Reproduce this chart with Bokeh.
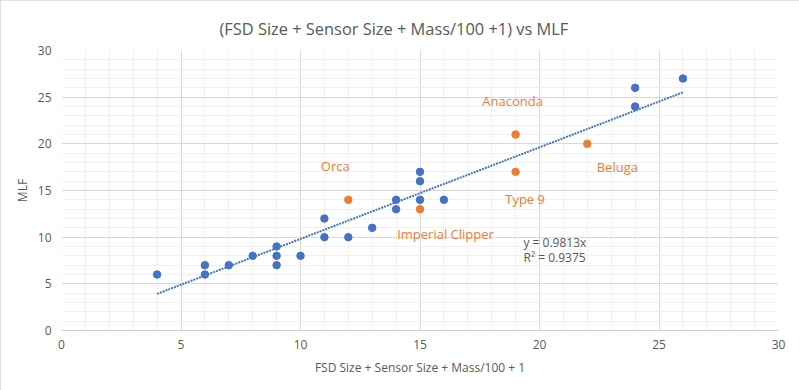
from bokeh.plotting import figure
from bokeh.models import Range1d, SingleIntervalTicker, Label, Title
from bokeh.embed import file_html
from bokeh.resources import INLINE

# ---- data ----
ship_x = [4, 6, 6, 7, 8, 9, 9, 9, 10, 11, 11, 12, 13, 14, 14, 15, 15, 15, 16, 24, 24, 26]
ship_mlf = [6, 7, 6, 7, 8, 9, 8, 7, 8, 12, 10, 10, 11, 14, 13, 17, 16, 14, 14, 26, 24, 27]

named_ships = ["Orca", "Imperial Clipper", "Anaconda", "Type 9", "Beluga"]
named_x = [12, 15, 19, 19, 22]
named_mlf = [14, 13, 21, 17, 20]

trend_slope = 0.9813
trend_r2 = 0.9375

x_ticks = [0, 5, 10, 15, 20, 25, 30]
y_ticks = [0, 5, 10, 15, 20, 25, 30]

title_text = "(FSD Size + Sensor Size + Mass/100 +1) vs MLF"

# ---- styles ----
BLUE = "#4472C4"
ORANGE = "#ED7D31"
GREY_TEXT = "#595959"
FONT = "Open Sans"

p = figure(width=799, height=390, output_backend="svg", toolbar_location=None, title=None,
           x_range=Range1d(x_ticks[0], x_ticks[-1]), y_range=Range1d(y_ticks[0], y_ticks[-1]),
           min_border_left=61, min_border_right=21, min_border_top=50, min_border_bottom=60)

# the title, then an invisible spacer between it and the plot frame
p.add_layout(Title(text=title_text, align="left", offset=158, vertical_align="top",
                   standoff=18, text_font=FONT, text_font_size="16.4px",
                   text_font_style="normal", text_color=GREY_TEXT), "above")
p.add_layout(Title(text=".", text_font_size="1px", text_alpha=0, standoff=6), "above")

p.outline_line_color = None
p.background_fill_color = "white"
p.border_fill_color = "white"
p.styles = {"outline": "1px solid #D9D9D9", "outline-offset": "-1px"}

xt = SingleIntervalTicker(interval=5, num_minor_ticks=5)
yt = SingleIntervalTicker(interval=5, num_minor_ticks=5)
p.xaxis.ticker = xt
p.yaxis.ticker = yt
p.xgrid.ticker = xt
p.ygrid.ticker = yt

for g in (p.xgrid, p.ygrid):
    g.grid_line_color = "#D9D9D9"
    g.grid_line_width = 1
    g.minor_grid_line_color = "#F0F0F0"
    g.minor_grid_line_width = 1

for ax in (p.xaxis, p.yaxis):
    ax.major_tick_line_color = None
    ax.minor_tick_line_color = None
    ax.major_tick_out = 0
    ax.major_tick_in = 0
    ax.minor_tick_out = 0
    ax.minor_tick_in = 0
    ax.major_label_text_font = FONT
    ax.major_label_text_font_size = "12px"
    ax.major_label_text_color = GREY_TEXT
    ax.axis_label_text_font = FONT
    ax.axis_label_text_font_size = "12px"
    ax.axis_label_text_color = GREY_TEXT
    ax.axis_label_text_font_style = "normal"

p.xaxis.axis_line_color = "#D0D0D0"
p.yaxis.axis_line_color = None
p.xaxis.major_label_standoff = 9
p.yaxis.major_label_standoff = 10
p.xaxis.axis_label = "FSD Size + Sensor Size + Mass/100 + 1"
p.yaxis.axis_label = "MLF"
p.xaxis.axis_label_standoff = 7
p.yaxis.axis_label_standoff = 4

# trendline (linear, through origin) over the range of the main series
tx = [min(ship_x), max(ship_x)]
ty = [trend_slope * v for v in tx]
p.line(tx, ty, line_color=BLUE, line_width=2, line_dash="2 1")

p.scatter(ship_x, ship_mlf, size=7.5, fill_color=BLUE, line_color=BLUE)
p.scatter(named_x, named_mlf, size=7.5, fill_color=ORANGE, line_color=ORANGE)

# data labels for the named ships (offsets in screen px from each point)
lbl_dx = [-13, 25.5, -3, 9.5, 30]
lbl_dy = [34, -25, 34, -27, -23.5]
for i in range(len(named_ships)):
    p.add_layout(Label(x=named_x[i], y=named_mlf[i], text=named_ships[i],
                       x_offset=lbl_dx[i], y_offset=lbl_dy[i],
                       text_align="center", text_baseline="middle",
                       text_font=FONT, text_font_size="13px", text_color=ORANGE))

p.add_layout(Label(x=19.33, y=9.4, text="y = %.4fx" % trend_slope,
                   text_align="left", text_baseline="middle",
                   text_font=FONT, text_font_size="12px", text_color=GREY_TEXT))
p.add_layout(Label(x=19.33, y=7.85, text="R² = %.4f" % trend_r2,
                   text_align="left", text_baseline="middle",
                   text_font=FONT, text_font_size="12px", text_color=GREY_TEXT))

open("out.html", "w").write(file_html(p, INLINE))
